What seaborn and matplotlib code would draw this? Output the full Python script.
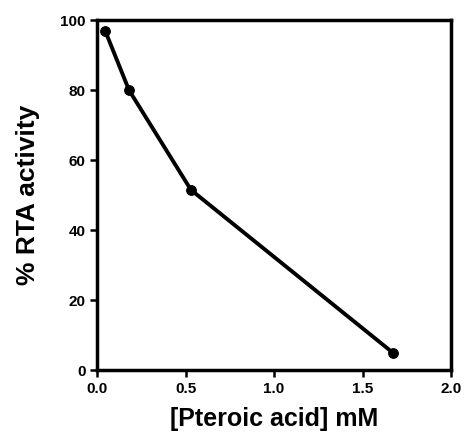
# RTA activity vs pteroic acid concentration

import pandas as pd
import seaborn as sns
import matplotlib.pyplot as plt

# values
conc = [0.045, 0.18, 0.53, 1.67]
activity = [97, 80, 51.5, 5]
x_ticks = [0.0, 0.5, 1.0, 1.5, 2.0]
y_ticks = [0, 20, 40, 60, 80, 100]

df = pd.DataFrame({'conc': conc, 'activity': activity})

sns.set_theme(style='ticks')
plt.rcParams['font.family'] = ['Liberation Sans', 'DejaVu Sans']
plt.rcParams['font.weight'] = 'bold'
plt.rcParams['text.color'] = 'black'
plt.rcParams['axes.labelcolor'] = 'black'

fig = plt.figure(figsize=(4.65, 4.4), dpi=100)
ax = fig.add_axes([0.209, 0.159, 0.761, 0.795])

sns.lineplot(data=df, x='conc', y='activity', ax=ax, color='black',
             linewidth=2.8, marker='o', markersize=7, markeredgecolor='black')

ax.set_xlim(0, 2.0)
ax.set_ylim(0, 100)
ax.set_xticks(x_ticks)
ax.set_xticklabels([f'{v:.1f}' for v in x_ticks])
ax.set_yticks(y_ticks)
ax.tick_params(axis='both', labelsize=11, width=1.8, length=5, direction='out', colors='black')
for lab in ax.get_xticklabels() + ax.get_yticklabels():
    lab.set_fontweight('bold')

for s in ax.spines.values():
    s.set_visible(True)
    s.set_linewidth(2.5)
    s.set_color('black')

ax.set_xlabel('[Pteroic acid] mM', fontsize=18, fontweight='bold', labelpad=8)
ax.set_ylabel('% RTA activity', fontsize=19, fontweight='bold', labelpad=14)

plt.savefig('out.png', dpi=100)
